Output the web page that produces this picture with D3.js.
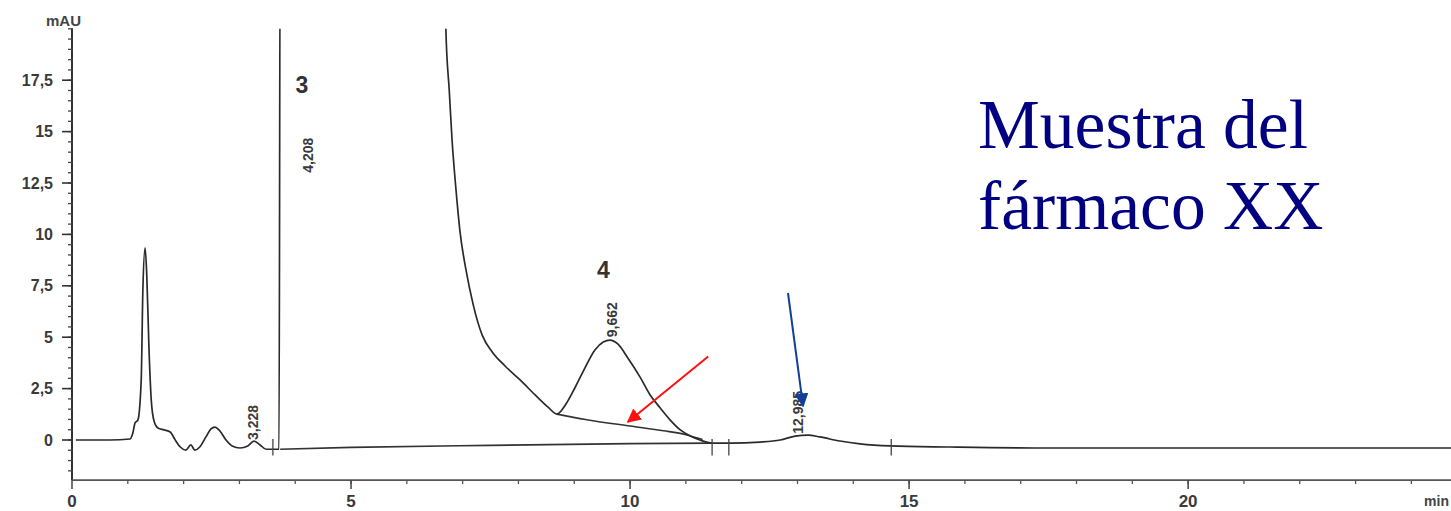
<!DOCTYPE html>
<html>
<head>
<meta charset="utf-8">
<script src="https://cdn.jsdelivr.net/npm/d3@7"></script>
<style>
  body { margin: 0; background: #fff; }
  svg { display: block; }
</style>
</head>
<body>
<svg width="1451" height="511"></svg>
<script>
// detector signal, [time in min, absorbance in mAU]; 25 = off scale
const signal = [
  [0.07, 0], [0.68, 0], [1.04, 0.05], [1.09, 0.34], [1.13, 0.83], [1.18, 0.97],
  [1.24, 2.9], [1.27, 7.3], [1.31, 9.34], [1.34, 8.0], [1.38, 4.4], [1.42, 1.95],
  [1.47, 0.92], [1.54, 0.58], [1.65, 0.49], [1.76, 0.39], [1.85, 0], [1.94, -0.34],
  [2.04, -0.49], [2.13, -0.24], [2.20, -0.49], [2.29, -0.34], [2.40, 0.15],
  [2.49, 0.54], [2.56, 0.63], [2.65, 0.44], [2.76, 0], [2.87, -0.29], [3.01, -0.39],
  [3.15, -0.29], [3.26, -0.05], [3.37, -0.24], [3.48, -0.45], [3.64, -0.45],
  [3.71, -0.45], [3.73, 25], [6.68, 25], [6.70, 19.94], [6.76, 17.0], [6.81, 14.6],
  [6.88, 12.2], [6.95, 10.2], [7.06, 8.27], [7.19, 6.57], [7.35, 5.1], [7.53, 4.28],
  [7.76, 3.6], [8.03, 2.92], [8.30, 2.19], [8.53, 1.6], [8.69, 1.26], [8.84, 1.70],
  [9.01, 2.53], [9.19, 3.5], [9.37, 4.38], [9.52, 4.77], [9.64, 4.86], [9.78, 4.67],
  [9.96, 3.99], [10.18, 3.06], [10.36, 2.19], [10.54, 1.56], [10.72, 0.97],
  [10.90, 0.49], [11.08, 0.19], [11.25, 0], [11.47, -0.15], [11.79, -0.15],
  [12.33, -0.1], [12.69, 0], [12.96, 0.19], [13.19, 0.24], [13.40, 0.15],
  [13.76, -0.05], [14.12, -0.19], [14.66, -0.29], [15.73, -0.34], [17.53, -0.39],
  [20.2, -0.39], [24.8, -0.39]
];

// integrator baseline under peak 3 and tangent skim under peak 4
const baseline3 = [[3.73, -0.45], [5.0, -0.36], [7.5, -0.26], [10.0, -0.18], [11.47, -0.15]];
const skim4 = [[8.69, 1.26], [9.2, 1.0], [10.0, 0.68], [10.6, 0.45], [11.0, 0.26], [11.3, 0.02]];

// integration event marks (time)
const events = [3.6, 11.47, 11.77, 14.68];

// peak labels: [time, value, text]
const peakTimes = [
  [3.228, 0.0, "3,228"],
  [4.208, 13.0, "4,208"],
  [9.662, 5.0, "9,662"],
  [12.985, 0.3, "12,985"]
];
const peakNumbers = [[4.12, 16.9, "3"], [9.52, 7.9, "4"]];

const xTicks = [0, 5, 10, 15, 20];
const yTicks = [0, 2.5, 5, 7.5, 10, 12.5, 15, 17.5];

const titleLines = ["Muestra del", "fármaco XX"];

let svg = d3.select("svg");
let width = parseInt(svg.attr("width"));
let height = parseInt(svg.attr("height"));

let x = d3.scaleLinear().domain([0, 24.8]).range([72, 1456]);
let y = d3.scaleLinear().domain([0, 20]).range([440, 28.8]);
let yBottom = y(-1.95);

svg.append("defs").append("clipPath").attr("id", "plot")
  .append("rect").attr("x", 72).attr("y", y(20)).attr("width", width).attr("height", 460);

let smooth = d3.line().x(d => x(d[0])).y(d => y(d[1])).curve(d3.curveMonotoneX);

// y axis
let yAxis = svg.append("g").attr("transform", "translate(72,0)");
yAxis.append("line").attr("y1", y(20)).attr("y2", yBottom)
  .attr("stroke", "#333").attr("stroke-width", 2);
yAxis.selectAll(".minor").data(d3.range(-1.5, 20.01, 0.5))
  .enter().append("line")
  .attr("x1", -4).attr("x2", 1)
  .attr("y1", d => y(d)).attr("y2", d => y(d))
  .attr("stroke", "#444").attr("stroke-width", 1.3);
yAxis.selectAll(".major").data(yTicks)
  .enter().append("line")
  .attr("x1", -10).attr("x2", 0)
  .attr("y1", d => y(d)).attr("y2", d => y(d))
  .attr("stroke", "#333").attr("stroke-width", 1.6);
yAxis.selectAll("text").data(yTicks)
  .enter().append("text")
  .attr("x", -19).attr("y", d => y(d) + 5.5)
  .attr("text-anchor", "end")
  .style("font", "bold 16px 'Liberation Sans', Arial, sans-serif")
  .style("fill", "#3a3a3a")
  .text(d => String(d).replace(".", ","));
svg.append("text").attr("x", 81).attr("y", 26).attr("text-anchor", "end")
  .style("font", "bold 15px 'Liberation Sans', Arial, sans-serif")
  .style("fill", "#444").text("mAU");

// x axis
let xAxis = svg.append("g").attr("transform", `translate(0,${yBottom})`);
xAxis.append("line").attr("x1", 72).attr("x2", width)
  .attr("stroke", "#555").attr("stroke-width", 1.6);
xAxis.selectAll(".minor").data(d3.range(1, 25))
  .enter().append("line")
  .attr("x1", d => x(d)).attr("x2", d => x(d))
  .attr("y1", 0).attr("y2", 4)
  .attr("stroke", "#555").attr("stroke-width", 1.3);
xAxis.selectAll(".major").data(xTicks)
  .enter().append("line")
  .attr("x1", d => x(d)).attr("x2", d => x(d))
  .attr("y1", 0).attr("y2", 9)
  .attr("stroke", "#444").attr("stroke-width", 1.5);
xAxis.selectAll("text").data(xTicks)
  .enter().append("text")
  .attr("x", d => x(d)).attr("y", 27)
  .attr("text-anchor", "middle")
  .style("font", "bold 17px 'Liberation Sans', Arial, sans-serif")
  .style("fill", "#3a3a3a")
  .text(d => d);
svg.append("text").attr("x", 1449).attr("y", 506).attr("text-anchor", "end")
  .style("font", "bold 14px 'Liberation Sans', Arial, sans-serif")
  .style("fill", "#444").text("min");

// traces
let plot = svg.append("g").attr("clip-path", "url(#plot)");
plot.append("path").datum(baseline3).attr("d", smooth)
  .attr("fill", "none").attr("stroke", "#333").attr("stroke-width", 1.7);
plot.append("path").datum(skim4).attr("d", smooth)
  .attr("fill", "none").attr("stroke", "#333").attr("stroke-width", 1.6);
plot.append("path").datum(signal).attr("d", smooth)
  .attr("fill", "none").attr("stroke", "#2a2a2a").attr("stroke-width", 1.7)
  .attr("stroke-linejoin", "round");
plot.selectAll(".event").data(events)
  .enter().append("line")
  .attr("x1", d => x(d)).attr("x2", d => x(d))
  .attr("y1", y(0.05)).attr("y2", y(-0.75))
  .attr("stroke", "#444").attr("stroke-width", 1.3);

// peak labels
svg.selectAll(".rt").data(peakTimes)
  .enter().append("text")
  .attr("transform", d => `translate(${x(d[0]) + 6},${y(d[1])}) rotate(-90)`)
  .style("font", "bold 14px 'Liberation Sans Narrow', 'Liberation Sans', sans-serif")
  .style("fill", "#3a3a3a")
  .text(d => d[2]);
svg.selectAll(".pn").data(peakNumbers)
  .enter().append("text")
  .attr("x", d => x(d[0])).attr("y", d => y(d[1]))
  .attr("text-anchor", "middle")
  .style("font", "bold 23px 'Liberation Sans', Arial, sans-serif")
  .style("fill", "#333")
  .text(d => d[2]);

// annotation
svg.selectAll(".title").data(titleLines)
  .enter().append("text")
  .attr("x", 978).attr("y", (d, i) => 148 + i * 81)
  .style("font", "69.5px 'Liberation Serif', 'Times New Roman', serif")
  .style("fill", "#000080")
  .text(d => d);

let defs = svg.select("defs");
[["red", "#ff1010"], ["blue", "#123f9a"]].forEach(([id, c]) => {
  defs.append("marker").attr("id", "head-" + id)
    .attr("viewBox", "0 0 10 10").attr("refX", 9).attr("refY", 5)
    .attr("markerWidth", 7).attr("markerHeight", 7)
    .attr("markerUnits", "strokeWidth")
    .attr("orient", "auto")
    .append("path").attr("d", "M0,0L10,5L0,10z").attr("fill", c);
});
svg.append("line").attr("x1", x(11.4)).attr("y1", y(4.06))
  .attr("x2", x(9.96)).attr("y2", y(0.88))
  .attr("stroke", "#ff1010").attr("stroke-width", 2)
  .attr("marker-end", "url(#head-red)");
svg.append("line").attr("x1", x(12.83)).attr("y1", y(7.15))
  .attr("x2", x(13.10)).attr("y2", y(1.65))
  .attr("stroke", "#123f9a").attr("stroke-width", 2)
  .attr("marker-end", "url(#head-blue)");
</script>
</body>
</html>
